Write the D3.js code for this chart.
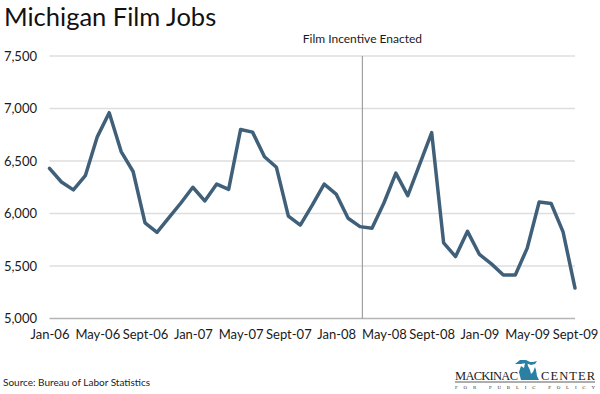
<!DOCTYPE html>
<html>
<head>
<meta charset="utf-8">
<script src="https://cdn.jsdelivr.net/npm/d3@7"></script>
<style>
  body { margin: 0; background: #fff; }
  svg text { font-family: Lato, "Open Sans", sans-serif; fill: #1a1a1a; }
</style>
</head>
<body>
<div id="chart"></div>
<script>
// Michigan film jobs, monthly, Jan-06 .. Sept-09
const months = [
  "Jan-06","Feb-06","Mar-06","Apr-06","May-06","Jun-06","Jul-06","Aug-06","Sept-06","Oct-06","Nov-06","Dec-06",
  "Jan-07","Feb-07","Mar-07","Apr-07","May-07","Jun-07","Jul-07","Aug-07","Sept-07","Oct-07","Nov-07","Dec-07",
  "Jan-08","Feb-08","Mar-08","Apr-08","May-08","Jun-08","Jul-08","Aug-08","Sept-08","Oct-08","Nov-08","Dec-08",
  "Jan-09","Feb-09","Mar-09","Apr-09","May-09","Jun-09","Jul-09","Aug-09","Sept-09"
];
const jobs = [
  6430, 6300, 6225, 6360, 6730, 6960, 6590, 6400, 5910, 5820, 5960, 6100,
  6250, 6120, 6280, 6230, 6800, 6775, 6540, 6440, 5975, 5890, 6080, 6280,
  6185, 5955, 5875, 5860, 6100, 6385, 6170, 6470, 6770, 5720, 5590, 5830,
  5610, 5520, 5415, 5415, 5670, 6110, 6095, 5825, 5290
];
const xTickLabels = ["Jan-06","May-06","Sept-06","Jan-07","May-07","Sept-07","Jan-08","May-08","Sept-08","Jan-09","May-09","Sept-09"];
const yTicks = [5000, 5500, 6000, 6500, 7000, 7500];
// incentive enacted between Mar-08 and Apr-08 (month index)
const incentiveIndex = 26.2;
const incentiveLabel = "Film Incentive Enacted";

const W = 600, H = 394;
const margin = { top: 56, right: 25, bottom: 75.5, left: 49.5 };
const width = W - margin.left - margin.right,
  height = H - margin.top - margin.bottom;

const root = d3.select("#chart").append("svg")
  .attr("width", W)
  .attr("height", H);

const svg = root.append("g")
  .attr("transform", "translate(" + margin.left + "," + margin.top + ")");

const x = d3.scaleLinear()
  .domain([0, months.length - 1])
  .range([0, width]);

const y = d3.scaleLinear()
  .domain([5000, 7500])
  .range([height, 0]);

// Title
root.append("text")
  .attr("x", 4)
  .attr("y", 25.5)
  .attr("style", "font-size: 25.5px; fill: #111")
  .text("Michigan Film Jobs");

// Gridlines
svg.append("g")
  .selectAll("line")
  .data(yTicks)
  .join("line")
  .attr("x1", 0)
  .attr("x2", width)
  .attr("y1", d => y(d))
  .attr("y2", d => y(d))
  .attr("stroke", d => d === 5000 ? "#b5b5b5" : "#dedede")
  .attr("stroke-width", 1.5);

// Y axis labels
const yAxis = d3.axisLeft(y)
  .tickValues(yTicks)
  .tickFormat(d3.format(","))
  .tickSize(0)
  .tickPadding(12.5);

svg.append("g")
  .attr("class", "y-axis")
  .call(yAxis)
  .call(g => g.select(".domain").remove())
  .selectAll("text")
  .attr("style", "font-size: 13px; font-family: Lato, sans-serif; fill: #1a1a1a");

// X axis labels
const xAxis = d3.axisBottom(x)
  .tickValues(xTickLabels.map(l => months.indexOf(l)))
  .tickFormat(i => months[i])
  .tickSize(0)
  .tickPadding(11);

svg.append("g")
  .attr("class", "x-axis")
  .attr("transform", "translate(0," + height + ")")
  .call(xAxis)
  .call(g => g.select(".domain").remove())
  .selectAll("text")
  .attr("style", "font-size: 13px; font-family: Lato, sans-serif; fill: #1a1a1a");

// Incentive marker
svg.append("line")
  .attr("x1", x(incentiveIndex))
  .attr("x2", x(incentiveIndex))
  .attr("y1", 0)
  .attr("y2", height)
  .attr("stroke", "#a0a0a0")
  .attr("stroke-width", 1.2);

svg.append("text")
  .attr("x", x(incentiveIndex))
  .attr("y", -13)
  .attr("text-anchor", "middle")
  .attr("style", "font-size: 12px; fill: #1a1a1a")
  .text(incentiveLabel);

// Line
const line = d3.line()
  .x((d, i) => x(i))
  .y(d => y(d));

svg.append("path")
  .datum(jobs)
  .attr("d", line)
  .attr("fill", "none")
  .attr("stroke", "#40607a")
  .attr("stroke-width", 3.5)
  .attr("stroke-linejoin", "round")
  .attr("stroke-linecap", "round");

// Source
root.append("text")
  .attr("x", 3)
  .attr("y", 386)
  .attr("style", "font-size: 10px; fill: #222")
  .text("Source: Bureau of Labor Statistics");

// Logo (Mackinac Center)
const logo = root.append("g").attr("transform", "translate(455,0)");
logo.append("text")
  .attr("x", 0)
  .attr("y", 380)
  .attr("textLength", 63)
  .attr("style", "font-family: 'Liberation Serif', serif; font-size: 12.5px; fill: #1a1a1a")
  .text("MACKINAC");
logo.append("path")
  .attr("d", "M66,380 L64,372 L66,366 L69,368 L70,363 L72,361 L73,366 L75,370 L76,374 L78,372 L80,367 L81,370 L82,376 L84,380 Z " +
             "M60,364 L65,360 L71,360 L75,362 L78,362 L82,361 L80,364 L76,365 L71,363 L66,364 Z")
  .attr("fill", "#2a7fa3");
logo.append("text")
  .attr("x", 86)
  .attr("y", 380)
  .attr("textLength", 54)
  .attr("style", "font-family: 'Liberation Serif', serif; font-size: 12.5px; fill: #1a1a1a")
  .text("CENTER");
logo.append("line")
  .attr("x1", 0).attr("x2", 140)
  .attr("y1", 382).attr("y2", 382)
  .attr("stroke", "#333").attr("stroke-width", 0.8);
logo.append("text")
  .attr("x", 0)
  .attr("y", 389)
  .attr("textLength", 140)
  .attr("style", "font-family: 'Liberation Serif', serif; font-size: 5px; fill: #333")
  .text("FOR PUBLIC POLICY");
</script>
</body>
</html>
